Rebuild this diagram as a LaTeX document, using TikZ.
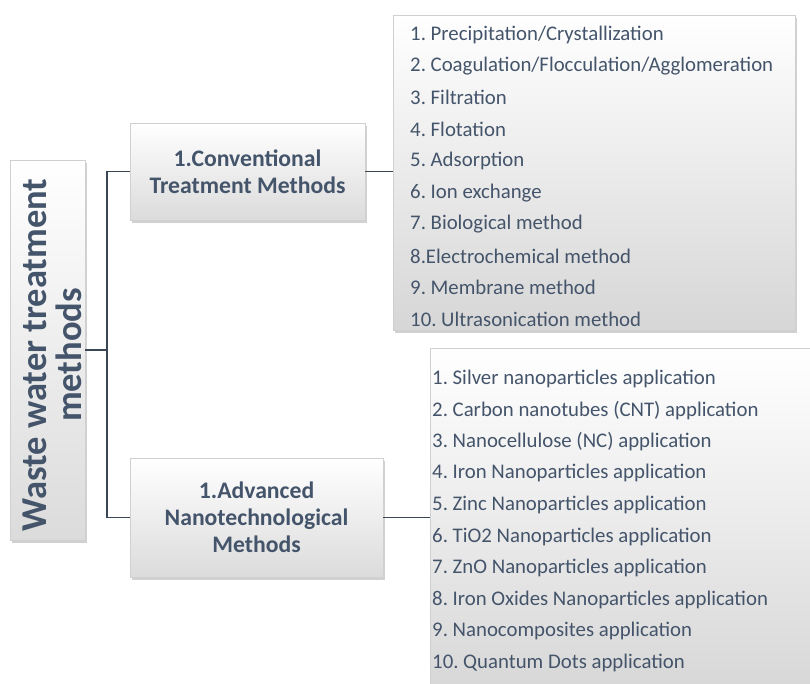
\documentclass[tikz,border=0pt]{standalone}
\usepackage{fontspec}
\setmainfont{Carlito}
\usetikzlibrary{shadows}
\definecolor{txt}{HTML}{44546A}
\definecolor{edge}{HTML}{D0D0D0}
\definecolor{conn}{HTML}{3A4654}
\tikzset{
  boxbase/.style={draw=edge, line width=0.6pt, top color=white, bottom color=black!14,
    drop shadow={shadow xshift=1.5pt, shadow yshift=-2.5pt, opacity=0.3, fill=black!60}},
  catbox/.style={boxbase, text=txt, font=\bfseries\fontsize{23.7}{27}\selectfont, align=center, inner sep=0pt},
  listbox/.style={draw=edge, line width=0.6pt, top color=white, bottom color=black!16,
    drop shadow={shadow xshift=1.5pt, shadow yshift=-2.5pt, opacity=0.3, fill=black!60}},
  item/.style={anchor=west, text=txt, font=\fontsize{20.8}{24}\selectfont, inner sep=0pt},
  link/.style={draw=conn, line width=1.2pt},
}
\begin{document}
\frenchspacing
\begin{tikzpicture}[x=1pt,y=-1pt]
\useasboundingbox (0,0) rectangle (810,683);
% root
\node[boxbase, minimum width=75pt, minimum height=380pt, inner sep=0pt] (root) at (47.5,350) {};
\node[rotate=90, text=txt, font=\bfseries\fontsize{36.5}{35}\selectfont, align=center] (roottext) at (52,355) {Waste water treatment\\methods};
% category boxes
\node[catbox, minimum width=235pt, minimum height=97pt] (conv) at (247.5,171.5) {1.Conventional\\Treatment Methods};
\node[catbox, minimum width=253pt, minimum height=119pt] (adv) at (256.5,517.5) {1.Advanced\\Nanotechnological\\Methods};
% list boxes
\node[listbox, minimum width=402pt, minimum height=315pt, inner sep=0pt] (list1) at (594,172.5) {};
\node[listbox, minimum width=400pt, minimum height=350pt, inner sep=0pt] (list2) at (630,523) {};
% items list 1
\foreach \t [count=\i] in {{1. Precipitation/Crystallization},{2. Coagulation/Flocculation/Agglomeration},{3. Filtration},{4. Flotation},{5. Adsorption},{6. Ion exchange},{7. Biological method},{8.Electrochemical method},{9. Membrane method},{10. Ultrasonication method}}
  \node[item] (a\i) at (410,{34.5+31.65*(\i-1)}) {\t};
% items list 2
\foreach \t [count=\i] in {{1. Silver nanoparticles application},{2. Carbon nanotubes (CNT) application},{3. Nanocellulose (NC) application},{4. Iron Nanoparticles application},{5. Zinc Nanoparticles application},{6. TiO2 Nanoparticles application},{7. ZnO Nanoparticles application},{8. Iron Oxides Nanoparticles application},{9. Nanocomposites application},{10. Quantum Dots application}}
  \node[item] (b\i) at (432,{378.5+31.6*(\i-1)}) {\t};
% connectors
\coordinate (j) at (107,350);
\draw[link] (root.east |- j) -- (j);
\draw[link] (conv.west) -| (j) |- (adv.west);
\draw[link] (conv.east) -- (list1.west |- conv.east);
\draw[link] (adv.east) -- (list2.west |- adv.east);
\end{tikzpicture}
\end{document}
